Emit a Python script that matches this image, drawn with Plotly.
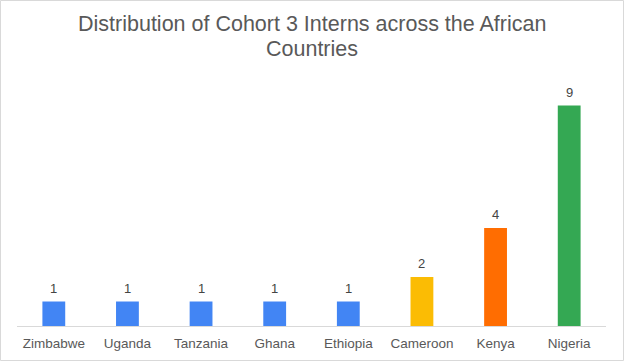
import plotly.graph_objects as go

countries = ["Zimbabwe", "Uganda", "Tanzania", "Ghana", "Ethiopia", "Cameroon", "Kenya", "Nigeria"]
interns = [1, 1, 1, 1, 1, 2, 4, 9]
colors = ["#4285F4", "#4285F4", "#4285F4", "#4285F4", "#4285F4", "#FBBC04", "#FF6D01", "#34A853"]
title_lines = ["Distribution of Cohort 3 Interns across the African", "Countries"]

W, H = 624, 361
L, R, T, B = 17, 18, 81, 35
pw, ph = W - L - R, H - T - B

fig = go.Figure(go.Bar(
    x=countries, y=interns, marker=dict(color=colors, line=dict(width=0)),
    hoverinfo="x+y",
))

font_family = "Liberation Sans, Arial"
annotations = []
for i, line in enumerate(title_lines):
    cy = 23.5 + 25.5 * i
    annotations.append(dict(text=line, xref="paper", yref="paper", showarrow=False,
                            x=(W / 2 - L) / pw, y=(H - B - cy) / ph,
                            xanchor="center", yanchor="middle",
                            font=dict(family=font_family, size=21.5, color="#595959")))
for c, v in zip(countries, interns):
    annotations.append(dict(text=str(v), x=c, y=v, xref="x", yref="y", showarrow=False,
                            xanchor="center", yanchor="middle", yshift=13.5,
                            font=dict(family=font_family, size=13, color="#444444")))

fig.update_layout(
    width=W, height=H,
    margin=dict(l=L, r=R, t=T, b=B, autoexpand=False),
    paper_bgcolor="white", plot_bgcolor="white",
    bargap=0.69,
    showlegend=False,
    annotations=annotations,
    xaxis=dict(showline=True, linecolor="#d9d9d9", linewidth=1, ticks="", automargin=False,
               ticklabelstandoff=5,
               tickfont=dict(family=font_family, size=13.5, color="#595959"),
               showgrid=False, zeroline=False),
    yaxis=dict(range=[0, 10], visible=False, showgrid=False, zeroline=False, automargin=False),
    shapes=[dict(type="rect", xref="paper", yref="paper",
                 x0=(0.5 - L) / pw, x1=(W - 0.5 - L) / pw,
                 y0=-(B - 0.5) / ph, y1=(H - B - 0.5) / ph,
                 line=dict(color="#d9d9d9", width=1), fillcolor="rgba(0,0,0,0)", layer="below")],
)
fig.write_html("out.html", config={"displayModeBar": False},
               post_script="document.body.style.margin='0';document.body.style.overflow='hidden';")
